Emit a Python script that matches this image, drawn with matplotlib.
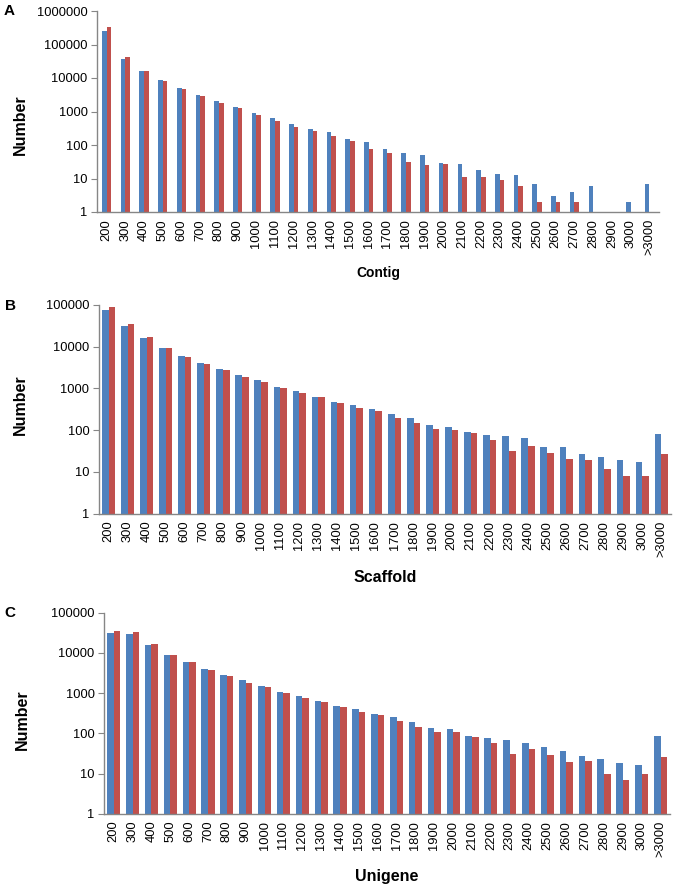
import numpy as np
import matplotlib
matplotlib.use("Agg")
import matplotlib.pyplot as plt
from matplotlib.ticker import FixedLocator, FixedFormatter, NullLocator

plt.rcParams['font.family'] = ['Liberation Sans', 'DejaVu Sans']

categories = ["200", "300", "400", "500", "600", "700", "800", "900", "1000", "1100",
              "1200", "1300", "1400", "1500", "1600", "1700", "1800", "1900", "2000", "2100",
              "2200", "2300", "2400", "2500", "2600", "2700", "2800", "2900", "3000", ">3000"]

nan = np.nan
# Panel A: Contig
contig_blue = [258000, 38000, 16500, 8500, 5070, 3150, 2100, 1380, 890, 630,
               430, 295, 240, 153, 119, 78, 59, 49, 30, 27,
               18, 14, 13, 7, 3, 4, 6, nan, 2, 7]
contig_red = [325000, 42000, 16500, 8300, 4800, 2850, 1850, 1250, 790, 520,
              340, 255, 185, 133, 76, 59, 31, 25, 28, 11,
              11, 9, 6, 2, 2, 2, nan, nan, nan, nan]
# Panel B: Scaffold
scaffold_blue = [77000, 31000, 16500, 9150, 5900, 4100, 2880, 2080, 1580, 1070,
                 860, 630, 470, 405, 318, 246, 193, 131, 122, 90,
                 76, 72, 64, 39, 39, 27, 23, 19, 17, 83]
scaffold_red = [88000, 34500, 17100, 9100, 5800, 3870, 2730, 1860, 1410, 1030,
                760, 610, 445, 340, 286, 200, 147, 108, 100, 85,
                59, 31, 41, 29, 20, 19, 12, 8, 8, 27]
# Panel C: Unigene
unigene_blue = [31000, 30300, 15800, 8930, 5800, 4050, 2830, 2110, 1530, 1070,
                855, 620, 480, 405, 304, 256, 193, 137, 127, 88,
                77, 70, 58, 45, 36, 28, 22.5, 18.3, 16.3, 88]
unigene_red = [34600, 33200, 16400, 8930, 5800, 3820, 2700, 1820, 1420, 1030,
               765, 595, 462, 343, 283, 204, 145, 107, 105, 83,
               58, 31, 41, 29, 19.5, 20, 10, 7, 10, 26]

BLUE = "#4F81BD"
RED = "#C0504D"
GRAY = "#868686"

W, H = 675, 889
fig = plt.figure(figsize=(W / 100, H / 100), dpi=100)


def px_axes(left, top, right, bottom):
    return fig.add_axes([left / W, 1 - bottom / H, (right - left) / W, (bottom - top) / H])


def draw(ax, blue, red, ymax, barw):
    x = np.arange(len(categories))
    b = np.array(blue, dtype=float)
    r = np.array(red, dtype=float)
    ax.bar(x - barw / 2, b, width=barw, color=BLUE, linewidth=0)
    ax.bar(x + barw / 2, r, width=barw, color=RED, linewidth=0)
    ax.set_yscale("log")
    ax.set_ylim(1, ymax)
    ax.set_xlim(-0.5, len(categories) - 0.5)
    decades = [10 ** k for k in range(int(round(np.log10(ymax))) + 1)]
    ax.yaxis.set_major_locator(FixedLocator(decades))
    ax.yaxis.set_major_formatter(FixedFormatter([str(d) for d in decades]))
    ax.yaxis.set_minor_locator(NullLocator())
    ax.set_xticks(x)
    ax.set_xticklabels(categories, rotation=90, fontsize=9.3)
    ax.tick_params(axis="x", length=0, pad=5)
    ax.tick_params(axis="y", length=4, color=GRAY, labelsize=9.3, pad=3)
    for s in ("top", "right"):
        ax.spines[s].set_visible(False)
    for s in ("left", "bottom"):
        ax.spines[s].set_color(GRAY)
        ax.spines[s].set_linewidth(1.0)


axA = px_axes(97.3, 11, 658.7, 212)
draw(axA, contig_blue, contig_red, 1e6, 0.25)
axB = px_axes(99, 305, 671, 513.7)
draw(axB, scaffold_blue, scaffold_red, 1e5, 0.345)
axC = px_axes(104.3, 612.7, 670, 813.7)
draw(axC, unigene_blue, unigene_red, 1e5, 0.35)


def ftext(x, y, s, **kw):
    fig.text(x / W, 1 - y / H, s, **kw)


ftext(20.5, 125, "Number", rotation=90, ha="center", va="center", fontsize=11.5, fontweight="bold")
ftext(20.5, 405, "Number", rotation=90, ha="center", va="center", fontsize=11.5, fontweight="bold")
ftext(22, 720, "Number", rotation=90, ha="center", va="center", fontsize=11.5, fontweight="bold")

ftext(378, 273, "Contig", ha="center", va="center", fontsize=10, fontweight="bold")
ftext(385, 577, "Scaffold", ha="center", va="center", fontsize=11.5, fontweight="bold")
ftext(387, 876, "Unigene", ha="center", va="center", fontsize=11.5, fontweight="bold")

ftext(9, 11, "A", ha="center", va="center", fontsize=11, fontweight="bold")
ftext(10, 306, "B", ha="center", va="center", fontsize=11, fontweight="bold")
ftext(10, 613, "C", ha="center", va="center", fontsize=11, fontweight="bold")

fig.savefig("out.png", dpi=100)
